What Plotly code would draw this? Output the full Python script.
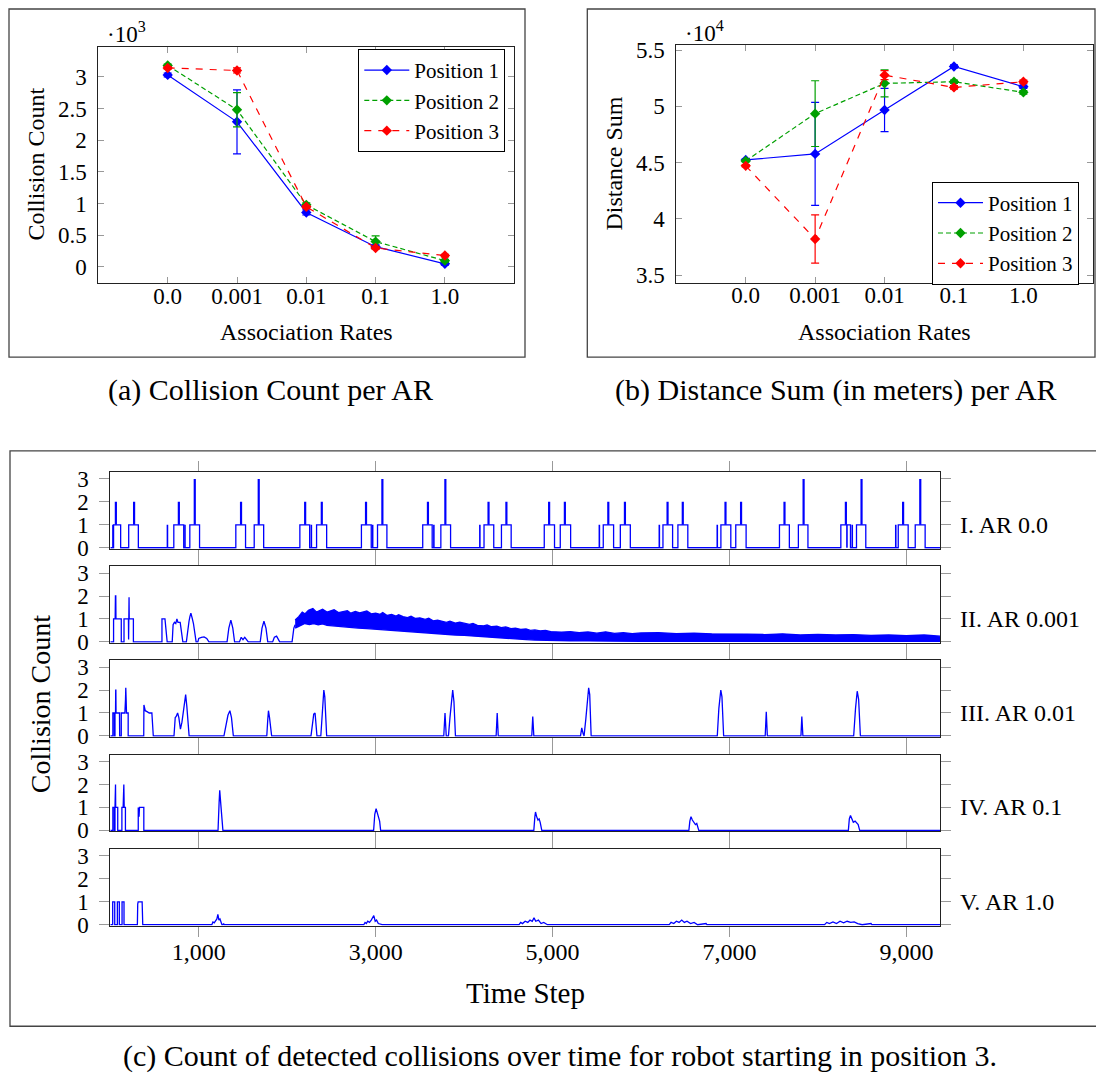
import plotly.graph_objects as go

W, H = 1096, 1077
FONT = "Liberation Serif"
BLUE, GREEN, RED = "#0000ff", "#00a000", "#ff0000"

# ---------------- (a) / (b) data ----------------
rates = ["0.0", "0.001", "0.01", "0.1", "1.0"]

coll_p1 = [3030, 2290, 860, 320, 50]
coll_p1_err = [30, 505, 40, 30, 20]
coll_p2 = [3180, 2480, 980, 400, 100]
coll_p2_err = [20, 270, 30, 90, 20]
coll_p3 = [3140, 3100, 950, 300, 180]
coll_p3_err = [20, 40, 20, 20, 20]

dist_p1 = [45250, 45780, 49680, 53550, 51750]
dist_p1_err = [100, 4580, 1920, 150, 150]
dist_p2 = [45160, 49360, 52050, 52190, 51250]
dist_p2_err = [100, 2920, 1210, 150, 150]
dist_p3 = [44720, 38220, 52780, 51690, 52190]
dist_p3_err = [100, 2150, 400, 150, 150]

# ---------------- (c) data ----------------
T_END = 9380
time_ticks = [1000, 3000, 5000, 7000, 9000]
time_tick_text = ["1,000", "3,000", "5,000", "7,000", "9,000"]
panel_labels = ["I. AR 0.0", "II. AR 0.001", "III. AR 0.01", "IV. AR 0.1", "V. AR 1.0"]

# I. AR 0.0 : level-1 pulses (start, end), spikes (t, height), thin level-1 lines
ar0_pulses = [(37, 117), (208, 317), (718, 830), (899, 1009), (1419, 1529), (1627, 1734),
              (2143, 2254), (2332, 2446), (2839, 2950), (3021, 3127), (3532, 3639),
              (3737, 3847), (4225, 4335), (4422, 4532), (4906, 5022), (5087, 5204),
              (5573, 5690), (5766, 5879), (6248, 6357), (6417, 6529), (6903, 7015),
              (7071, 7188), (7565, 7677), (7779, 7887), (8259, 8368), (8436, 8541),
              (8908, 9020), (9100, 9212)]
ar0_spikes = [(63, 2), (269, 2), (775, 2), (955, 3), (1478, 2), (1678, 3), (2203, 2),
              (2391, 2), (2891, 2), (3076, 3), (3591, 2), (3788, 3), (4276, 2), (4478, 2),
              (4961, 2), (5139, 2), (5630, 2), (5818, 2), (6300, 2), (6472, 2), (6955, 2),
              (7131, 2), (7622, 2), (7838, 3), (8316, 2), (8493, 3), (8963, 2), (9157, 3)]
ar0_thin = [30, 646, 844, 2273, 2966, 3658, 4178, 5529, 6207, 6862, 8328, 8388, 8880]

# II. AR 0.001 : early part as points, then dense noisy band (lower / upper envelope)
ar0001_pts = [(0, 0), (37, 0), (37, 1), (55, 1), (58, 2), (62, 2), (64, 1), (124, 1), (124, 0),
              (155, 0), (155, 1), (205, 1), (207, 0.1), (209, 1.95), (212, 1.95), (214, 1),
              (261, 1), (261, 0), (584, 0), (584, 1), (618, 1), (630, 0.5), (643, 0),
              (700, 0), (710, 0.75), (725, 0.85), (740, 0.8), (753, 1.0), (765, 0.85),
              (790, 0.85), (805, 0.5), (820, 0), (860, 0), (875, 0.6), (890, 0.9), (900, 1.1),
              (911, 1.25), (925, 1.05), (940, 0.8), (955, 0.4), (970, 0), (990, 0),
              (1000, 0.15), (1030, 0.2), (1060, 0.22), (1090, 0.15), (1115, 0), (1320, 0),
              (1340, 0.6), (1363, 0.95), (1385, 0.6), (1405, 0), (1460, 0), (1480, 0.2),
              (1500, 0.1), (1520, 0.2), (1560, 0), (1695, 0), (1715, 0.6), (1737, 0.9),
              (1760, 0.6), (1780, 0), (1835, 0), (1855, 0.2), (1880, 0.25), (1915, 0),
              (2055, 0), (2075, 0.6), (2090, 0.75)]
ar0001_hi = [(2090, 0.95), (2130, 1.1), (2170, 1.3), (2200, 1.22), (2240, 1.38), (2290, 1.45),
             (2330, 1.3), (2360, 1.36), (2400, 1.42), (2450, 1.3), (2480, 1.33), (2530, 1.4),
             (2580, 1.28), (2620, 1.32), (2680, 1.36), (2720, 1.25), (2770, 1.33), (2820, 1.26),
             (2860, 1.3), (2900, 1.35), (2950, 1.22), (3000, 1.25), (3050, 1.2), (3080, 1.28),
             (3130, 1.15), (3180, 1.2), (3230, 1.12), (3260, 1.18), (3310, 1.1), (3360, 1.06),
             (3400, 1.12), (3450, 1.02), (3500, 1.05), (3560, 0.98), (3600, 1.03), (3650, 0.92),
             (3700, 0.95), (3760, 0.9), (3800, 0.85), (3840, 0.9), (3900, 0.82), (3950, 0.86),
             (4000, 0.8), (4060, 0.76), (4100, 0.8), (4150, 0.72), (4220, 0.7), (4260, 0.74),
             (4310, 0.66), (4370, 0.68), (4420, 0.62), (4470, 0.65), (4530, 0.58), (4580, 0.6),
             (4640, 0.54), (4700, 0.56), (4750, 0.5), (4800, 0.52), (4860, 0.48), (4920, 0.5),
             (4980, 0.45), (5100, 0.42), (5200, 0.45), (5300, 0.4), (5400, 0.43), (5500, 0.38),
             (5600, 0.44), (5700, 0.37), (5800, 0.4), (5900, 0.36), (6000, 0.39), (6200, 0.4),
             (6400, 0.36), (6600, 0.38), (6800, 0.35), (7000, 0.36), (7200, 0.34), (7400, 0.32),
             (7600, 0.35), (7800, 0.3), (8000, 0.33), (8200, 0.3), (8400, 0.32), (8600, 0.28),
             (8800, 0.3), (9000, 0.27), (9200, 0.3), (9380, 0.25)]
ar0001_lo = [(2090, 0.6), (2150, 0.72), (2200, 0.8), (2250, 0.75), (2300, 0.8), (2350, 0.74),
             (2400, 0.78), (2450, 0.72), (2500, 0.7), (2600, 0.68), (2700, 0.65), (2800, 0.6),
             (2900, 0.58), (3000, 0.55), (3100, 0.52), (3200, 0.5), (3300, 0.48), (3400, 0.42),
             (3500, 0.4), (3600, 0.38), (3700, 0.35), (3800, 0.32), (3900, 0.3), (4000, 0.28),
             (4100, 0.25), (4200, 0.22), (4300, 0.2), (4400, 0.18), (4500, 0.15), (4600, 0.12),
             (4700, 0.1), (4800, 0.08), (4900, 0.08), (5000, 0.06), (5200, 0.05), (5400, 0.04),
             (5600, 0.03), (5800, 0.03), (6000, 0.02), (9380, 0.02)]

# III. AR 0.01
ar001_pts = [(0, 0), (29, 0), (29, 1), (45, 1), (45, 0), (53, 0), (53, 1), (59, 1), (61, 2),
             (63, 2), (65, 1), (104, 1), (106, 0), (124, 0), (124, 1), (165, 1), (172, 1.6),
             (175, 2.1), (179, 1.6), (183, 1), (202, 1), (202, 0), (378, 0), (380, 1.35),
             (395, 1.1), (420, 1.05), (440, 1.0), (470, 1.0), (486, 0), (720, 0), (734, 0.8),
             (745, 0.85), (761, 1.0), (775, 0.8), (793, 0.3), (810, 0.6), (830, 1.2),
             (852, 1.8), (865, 1.3), (880, 0.5), (891, 0), (1285, 0), (1310, 0.6),
             (1330, 0.9), (1352, 1.1), (1370, 0.8), (1391, 0), (1769, 0), (1780, 0.7),
             (1788, 1.1), (1800, 0.8), (1824, 0), (2269, 0), (2285, 0.5), (2300, 0.95),
             (2315, 1.0), (2328, 0.5), (2336, 0), (2380, 0), (2395, 0.9), (2414, 2.0),
             (2425, 1.7), (2446, 0), (3770, 0), (3784, 1.0), (3798, 0), (3823, 0),
             (3840, 0.8), (3855, 1.3), (3871, 2.0), (3885, 1.5), (3902, 0), (4362, 0),
             (4374, 1.0), (4386, 0), (4765, 0), (4776, 0.85), (4788, 0), (5316, 0),
             (5330, 0.35), (5345, 0.1), (5356, 0), (5375, 0.7), (5395, 1.4), (5408, 2.1),
             (5420, 1.8), (5436, 0), (6862, 0), (6880, 1.2), (6902, 2.0), (6915, 1.7),
             (6934, 0), (7404, 0), (7416, 1.05), (7428, 0), (7808, 0), (7818, 0.85),
             (7830, 0), (8404, 0), (8425, 1.2), (8444, 1.95), (8460, 1.6), (8480, 0),
             (9380, 0)]

# IV. AR 0.1
ar01_pts = [(0, 0), (29, 0), (29, 1), (45, 1), (45, 0), (53, 0), (53, 1), (55, 2), (59, 2),
            (61, 1), (84, 1), (84, 0), (131, 0), (131, 1), (145, 1), (149, 2), (153, 2),
            (157, 1), (171, 1), (171, 0), (316, 0), (316, 1), (325, 0.6), (330, 1), (379, 1),
            (379, 0), (1218, 0), (1230, 1.2), (1237, 1.75), (1248, 1.2), (1260, 0.5),
            (1273, 0), (2977, 0), (2990, 0.7), (3005, 0.95), (3020, 0.75), (3035, 0.5),
            (3045, 0.4), (3056, 0), (4788, 0), (4800, 0.6), (4807, 0.8), (4820, 0.6),
            (4835, 0.45), (4848, 0.5), (4860, 0.35), (4878, 0), (6541, 0), (6552, 0.4),
            (6565, 0.6), (6580, 0.45), (6600, 0.35), (6615, 0.25), (6630, 0.3), (6653, 0),
            (8344, 0), (8355, 0.5), (8368, 0.65), (8385, 0.45), (8400, 0.35), (8420, 0.4),
            (8440, 0.3), (8455, 0.25), (8472, 0), (9380, 0)]

# V. AR 1.0
ar1_pts = [(0, 0), (27, 0), (27, 1), (50, 1), (50, 0), (80, 0), (80, 1), (102, 1), (102, 0),
           (133, 0), (133, 1), (155, 1), (155, 0), (306, 0), (310, 0.9), (315, 1), (360, 1),
           (367, 0), (1148, 0), (1160, 0.12), (1175, 0.08), (1190, 0.2), (1205, 0.25),
           (1216, 0.45), (1228, 0.2), (1240, 0.25), (1262, 0), (1275, 0), (1280, 0.05),
           (1290, 0), (2866, 0), (2880, 0.1), (2895, 0.05), (2910, 0.15), (2930, 0.1),
           (2950, 0.2), (2979, 0.4), (2995, 0.15), (3010, 0.2), (3030, 0.05), (3073, 0),
           (4621, 0), (4640, 0.1), (4660, 0.05), (4690, 0.15), (4720, 0.1), (4745, 0.2),
           (4770, 0.15), (4790, 0.3), (4810, 0.15), (4840, 0.2), (4870, 0.05), (4900, 0.1),
           (4942, 0), (6319, 0), (6340, 0.1), (6370, 0.05), (6400, 0.15), (6430, 0.1),
           (6460, 0.2), (6490, 0.1), (6520, 0.15), (6560, 0.05), (6600, 0.1), (6640, 0),
           (6735, 0.05), (6745, 0), (8075, 0), (8100, 0.1), (8130, 0.05), (8170, 0.12),
           (8210, 0.05), (8250, 0.15), (8290, 0.08), (8330, 0.15), (8370, 0.1),
           (8410, 0.12), (8450, 0.05), (8500, 0), (8600, 0.05), (8610, 0), (9380, 0)]

# ---------------- helpers ----------------
# empirical vertical calibration of the rendered page
VA, VB = 0.985, 6.0


def PX(p):
    return p / W


def PY(p):
    return 1 - ((p - VB) / VA) / H


fig = go.Figure()

# ---------------- (a) ----------------
series_a = [("Position 1", coll_p1, coll_p1_err, BLUE, "solid"),
            ("Position 2", coll_p2, coll_p2_err, GREEN, "5px,3px"),
            ("Position 3", coll_p3, coll_p3_err, RED, "7px,7px")]
for name, vals, err, col, dash in series_a:
    fig.add_trace(go.Scatter(
        x=rates, y=[v / 1000 for v in vals], name=name, mode="lines+markers",
        line=dict(color=col, width=1.2, dash=dash),
        marker=dict(symbol="diamond", size=8, color=col),
        error_y=dict(type="data", array=[e / 1000 for e in err], color=col,
                     thickness=1.2, width=4),
        xaxis="x", yaxis="y", legend="legend"))

# ---------------- (b) ----------------
series_b = [("Position 1", dist_p1, dist_p1_err, BLUE, "solid"),
            ("Position 2", dist_p2, dist_p2_err, GREEN, "5px,3px"),
            ("Position 3", dist_p3, dist_p3_err, RED, "7px,7px")]
for name, vals, err, col, dash in series_b:
    fig.add_trace(go.Scatter(
        x=rates, y=[v / 10000 for v in vals], name=name, mode="lines+markers",
        line=dict(color=col, width=1.2, dash=dash),
        marker=dict(symbol="diamond", size=8, color=col),
        error_y=dict(type="data", array=[e / 10000 for e in err], color=col,
                     thickness=1.2, width=4),
        xaxis="x2", yaxis="y2", legend="legend2"))

# ---------------- (c) ----------------
line_c = dict(color=BLUE, width=1.3)

# panel I
px_, py_ = [0], [0]
for s, e in ar0_pulses:
    px_ += [s, s, e, e]
    py_ += [0, 1, 1, 0]
px_.append(T_END)
py_.append(0)
fig.add_trace(go.Scatter(x=px_, y=py_, mode="lines", line=line_c, showlegend=False,
                         xaxis="x3", yaxis="y3"))
sx, sy = [], []
for t, h in ar0_spikes:
    sx += [t, t, None]
    sy += [1, h, None]
fig.add_trace(go.Scatter(x=sx, y=sy, mode="lines", line=dict(color=BLUE, width=2.2),
                         showlegend=False, xaxis="x3", yaxis="y3"))
tx, ty = [], []
for t in ar0_thin:
    tx += [t, t, None]
    ty += [0, 1, None]
fig.add_trace(go.Scatter(x=tx, y=ty, mode="lines", line=dict(color=BLUE, width=1.6),
                         showlegend=False, xaxis="x3", yaxis="y3"))

# panel II
fig.add_trace(go.Scatter(x=[p[0] for p in ar0001_pts], y=[p[1] for p in ar0001_pts],
                         mode="lines", line=line_c, showlegend=False, xaxis="x4", yaxis="y4"))
fig.add_trace(go.Scatter(x=[p[0] for p in ar0001_lo], y=[p[1] for p in ar0001_lo],
                         mode="lines", line=dict(color=BLUE, width=1.3), showlegend=False,
                         xaxis="x4", yaxis="y4"))
fig.add_trace(go.Scatter(x=[p[0] for p in ar0001_hi], y=[p[1] for p in ar0001_hi],
                         mode="lines", line=dict(color=BLUE, width=1.3), fill="tonexty",
                         fillcolor=BLUE, showlegend=False, xaxis="x4", yaxis="y4"))

# panels III-V
for pts, ax in [(ar001_pts, "5"), (ar01_pts, "6"), (ar1_pts, "7")]:
    fig.add_trace(go.Scatter(x=[p[0] for p in pts], y=[p[1] for p in pts], mode="lines",
                             line=line_c, showlegend=False, xaxis="x" + ax, yaxis="y" + ax))

# ---------------- layout ----------------
tick_font_top = dict(family=FONT, size=23, color="black")
axis_common_top = dict(showline=True, linecolor="#222", linewidth=1, mirror="ticks",
                       ticks="inside", ticklen=6, tickcolor="#999", tickwidth=1,
                       showgrid=False, zeroline=False, tickfont=tick_font_top)

legend_common = dict(xanchor="right", yanchor="top", bgcolor="white", bordercolor="black",
                     borderwidth=1, traceorder="normal", tracegroupgap=0, itemwidth=45,
                     font=dict(family=FONT, size=21, color="black"))

layout = dict(
    width=W, height=H, margin=dict(l=0, r=0, t=0, b=0),
    paper_bgcolor="white", plot_bgcolor="white", showlegend=True,
    font=dict(family=FONT, color="black"),
    xaxis=dict(domain=[PX(98.4), PX(514.2)], type="category", range=[-1, 5],
               anchor="y", ticklabelstandoff=-8, **axis_common_top),
    yaxis=dict(domain=[PY(282.7), PY(46)], range=[-0.252, 3.472], anchor="x",
               tickvals=[0, 0.5, 1, 1.5, 2, 2.5, 3],
               ticktext=["0", "0.5", "1", "1.5", "2", "2.5", "3"],
               ticklabelstandoff=6, **axis_common_top),
    xaxis2=dict(domain=[PX(676.3), PX(1092.8)], type="category", range=[-1, 5],
                anchor="y2", ticklabelstandoff=-8, **axis_common_top),
    yaxis2=dict(domain=[PY(282.3), PY(44.3)], range=[3.435, 5.544], anchor="x2",
                tickvals=[3.5, 4, 4.5, 5, 5.5], ticktext=["3.5", "4", "4.5", "5", "5.5"],
                ticklabelstandoff=6, **axis_common_top),
    legend=dict(x=PX(505.3), y=PY(48), **legend_common),
    legend2=dict(x=PX(1079), y=PY(181), **legend_common),
)

tops = [472.3, 566.7, 661.0, 755.7, 850.3]
panel_h = 76.8
YR = [-0.04, 3.3]
for i, top in enumerate(tops):
    n = str(i + 3)
    layout["xaxis" + n] = dict(
        domain=[PX(110.3), PX(940)], range=[0, T_END], anchor="y" + n,
        tickvals=time_ticks, ticktext=time_tick_text, showticklabels=(i == 4),
        showline=True, linecolor="#222", linewidth=1, mirror="ticks",
        ticks="outside", ticklen=10, tickcolor="#999", tickwidth=1,
        showgrid=False, zeroline=False, ticklabelstandoff=-5,
        tickfont=dict(family=FONT, size=24, color="black"))
    layout["yaxis" + n] = dict(
        domain=[PY(top + panel_h), PY(top)], range=YR, anchor="x" + n,
        tickvals=[0, 1, 2, 3], showline=True, linecolor="#222", linewidth=1,
        mirror="ticks", ticks="outside", ticklen=10, tickcolor="#999", tickwidth=1,
        showgrid=False, zeroline=False, ticklabelstandoff=6,
        tickfont=dict(family=FONT, size=23, color="black"))

fig.update_layout(**layout)

# frames
frame = dict(type="rect", xref="paper", yref="paper", line=dict(color="#444", width=1.3),
             fillcolor="rgba(0,0,0,0)", layer="below")
fig.add_shape(x0=PX(9), x1=PX(525), y0=PY(357), y1=PY(8), **frame)
fig.add_shape(x0=PX(587.3), x1=PX(1095), y0=PY(357), y1=PY(8), **frame)
fig.add_shape(x0=PX(10), x1=PX(1102), y0=PY(1028), y1=PY(451), **frame)

ann = []


def text(x, y, s, size, xanchor="center", yanchor="middle", angle=0):
    ann.append(dict(x=PX(x), y=PY(y), xref="paper", yref="paper", text=s, showarrow=False,
                    xanchor=xanchor, yanchor=yanchor, textangle=angle,
                    font=dict(family=FONT, size=size, color="black")))


text(105, 32, "·10<sup>3</sup>", 23, xanchor="left")
text(683, 31, "·10<sup>4</sup>", 23, xanchor="left")
text(36, 164, "Collision Count", 24, angle=-90)
text(614, 163, "Distance Sum", 24, angle=-90)
text(306, 332, "Association Rates", 24)
text(884, 332, "Association Rates", 24)
text(270, 390, "(a) Collision Count per AR", 30)
text(836, 390, "(b) Distance Sum (in meters) per AR", 30)
text(40, 705, "Collision Count", 28, angle=-90)
text(525, 995, "Time Step", 29)
text(560, 1058, "(c) Count of detected collisions over time for robot starting in position 3.", 30)
for i, top in enumerate(tops):
    text(958, top + (YR[1] - 1) * 23, panel_labels[i], 24, xanchor="left")

fig.update_layout(annotations=ann)
fig.write_html("out.html")
